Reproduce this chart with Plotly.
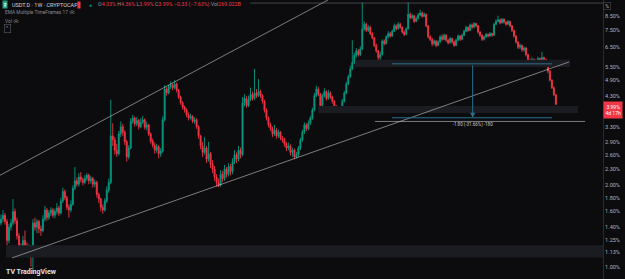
import math
import plotly.graph_objects as go

# ---------------- data (weekly candles, USDT.D %) ----------------
closes = [1.50, 1.55, 1.47, 1.25, 1.40, 1.45, 1.60, 1.48, 1.30, 1.18,
          1.15, 1.25, 1.20, 1.14, 1.17, 1.09, 1.45, 1.40, 1.47, 1.38,
          1.36, 1.50, 1.62, 1.52, 1.58, 1.62, 1.55, 1.60, 1.65, 1.58,
          1.75, 1.90, 1.80, 1.66, 1.62, 1.70, 1.95, 2.08, 2.02, 2.15,
          2.10, 2.05, 2.12, 2.18, 2.08, 2.12, 2.02, 2.05, 1.85, 1.78,
          1.66, 1.62, 1.75, 1.92, 2.05, 3.05, 2.95, 2.70, 2.62, 3.10,
          3.30, 3.15, 2.90, 2.55, 2.75, 3.45, 3.55, 3.38, 3.48, 3.30,
          3.42, 3.50, 3.28, 3.35, 3.10, 2.92, 2.82, 2.70, 2.78, 2.62,
          2.68, 3.50, 4.55, 4.40, 4.65, 4.70, 4.60, 4.75, 4.50, 4.25,
          4.05, 3.90, 3.80, 3.65, 3.55, 3.60, 3.45, 3.50, 3.30, 3.05,
          2.80, 2.65, 2.75, 2.50, 2.62, 2.40, 2.30, 2.15, 2.05, 2.00,
          2.20, 2.12, 2.30, 2.20, 2.35, 2.25, 2.45, 2.60, 2.50, 2.70,
          2.60, 4.05, 4.20, 3.95, 4.15, 4.35, 4.20, 4.40, 4.30, 4.45,
          4.30, 4.10, 3.80, 3.55, 3.35, 3.25, 3.10, 3.20, 3.05, 3.15,
          3.00, 2.95, 2.85, 2.75, 2.80, 2.65, 2.70, 2.55, 2.60, 2.75,
          2.95, 3.15, 3.35, 3.25, 3.40, 3.55, 3.80, 4.30, 4.55, 4.35,
          3.95, 4.30, 4.45, 4.20, 4.40, 4.25, 4.10, 3.90, 3.80, 3.85,
          3.78, 4.10, 4.40, 4.75, 5.05, 5.40, 5.70, 6.05, 6.30, 6.10,
          6.40, 7.60, 7.90, 7.50, 7.70, 7.30, 7.05, 6.60, 6.30, 5.95,
          6.10, 6.85, 6.70, 7.10, 7.30, 7.15, 7.45, 7.80, 7.60, 7.90,
          7.70, 7.40, 7.25, 7.60, 8.60, 8.35, 8.50, 8.10, 8.30, 8.55,
          8.70, 8.45, 8.60, 7.80, 7.10, 6.95, 6.70, 6.85, 6.60, 6.80,
          7.10, 6.95, 7.20, 6.90, 6.75, 7.00, 6.80, 6.60, 6.90, 7.15,
          6.95, 7.20, 7.45, 7.70, 7.50, 7.85, 7.70, 7.95, 7.80, 7.40,
          7.20, 6.95, 7.10, 7.25, 7.15, 7.30, 7.20, 7.90, 8.10, 8.20,
          8.00, 8.25, 8.05, 7.90, 8.10, 7.80, 7.50, 7.15, 6.80, 6.50,
          6.60, 6.35, 6.45, 6.10, 5.80, 5.70, 5.85, 5.65, 5.75, 5.90,
          5.80, 5.95, 5.85, 5.60, 5.30, 4.90, 4.60, 4.33, 3.99]

highs = [1.56, 1.62, 1.58, 1.50, 1.44, 1.50, 1.78, 1.64, 1.52, 1.33,
         1.22, 1.30, 1.36, 1.23, 1.21, 1.20, 1.50, 1.52, 1.50, 1.49,
         1.42, 1.55, 1.68, 1.65, 1.62, 1.66, 1.65, 1.64, 1.72, 1.68,
         1.80, 1.96, 1.93, 1.83, 1.70, 1.76, 2.00, 2.34, 2.14, 2.22,
         2.24, 2.14, 2.18, 2.22, 2.21, 2.17, 2.15, 2.10, 2.08, 1.88,
         1.80, 1.70, 1.79, 1.98, 2.12, 4.15, 3.40, 3.02, 2.85, 3.18,
         3.45, 3.38, 3.20, 2.95, 2.82, 3.55, 3.65, 3.60, 3.58, 3.52,
         3.55, 3.62, 3.54, 3.44, 3.38, 3.14, 2.98, 2.88, 2.85, 2.82,
         2.75, 3.60, 4.70, 4.62, 4.72, 4.85, 4.78, 4.90, 4.80, 4.55,
         4.30, 4.10, 3.95, 3.86, 3.72, 3.68, 3.64, 3.58, 3.54, 3.34,
         3.08, 2.90, 3.02, 2.80, 2.90, 2.66, 2.48, 2.36, 2.20, 2.12,
         2.28, 2.26, 2.38, 2.34, 2.42, 2.40, 2.52, 2.70, 2.65, 2.80,
         2.76, 4.25, 4.35, 4.28, 4.30, 4.60, 4.45, 5.40, 4.55, 4.95,
         4.52, 4.36, 4.15, 3.86, 3.60, 3.42, 3.30, 3.35, 3.26, 3.22,
         3.18, 3.05, 3.00, 2.90, 2.88, 2.84, 2.76, 2.74, 2.66, 2.80,
         3.00, 3.22, 3.42, 3.40, 3.48, 3.62, 3.88, 4.40, 4.68, 4.62,
         4.40, 4.38, 4.58, 4.50, 4.52, 4.46, 4.30, 4.14, 3.96, 3.92,
         3.90, 4.18, 4.48, 4.85, 5.15, 5.55, 6.90, 6.20, 6.45, 6.40,
         6.55, 9.50, 8.10, 8.00, 7.85, 7.80, 7.40, 7.10, 6.70, 6.35,
         6.25, 6.95, 6.95, 7.20, 7.45, 7.40, 7.55, 7.95, 7.90, 8.05,
         8.00, 7.75, 7.50, 7.70, 9.50, 8.75, 8.65, 8.55, 8.45, 8.70,
         8.95, 8.80, 8.75, 8.65, 7.85, 7.20, 7.05, 6.95, 6.90, 6.90,
         7.20, 7.25, 7.30, 7.25, 6.98, 7.10, 7.05, 6.88, 7.00, 7.25,
         7.20, 7.30, 7.55, 7.80, 7.75, 7.95, 7.95, 8.05, 8.00, 7.85,
         7.45, 7.25, 7.18, 7.35, 7.30, 7.40, 7.35, 8.00, 8.25, 8.50,
         8.30, 8.35, 8.30, 8.10, 8.20, 8.15, 7.85, 7.55, 7.20, 6.85,
         6.70, 6.65, 6.55, 6.50, 6.15, 5.90, 5.95, 5.90, 5.85, 6.00,
         5.95, 6.25, 6.00, 5.90, 5.65, 5.35, 4.95, 4.65, 4.36]

lows = [1.42, 1.46, 1.43, 1.20, 1.22, 1.36, 1.42, 1.44, 1.26, 1.13,
        1.11, 1.13, 1.17, 1.10, 1.08, 1.00, 0.95, 1.36, 1.33, 1.33,
        1.30, 1.34, 1.47, 1.48, 1.49, 1.54, 1.52, 1.51, 1.56, 1.54,
        1.56, 1.72, 1.76, 1.62, 1.52, 1.59, 1.68, 1.92, 1.98, 1.98,
        2.05, 2.00, 2.02, 2.08, 2.02, 2.03, 1.96, 1.97, 1.80, 1.72,
        1.60, 1.57, 1.60, 1.72, 1.88, 2.02, 2.80, 2.60, 2.55, 2.58,
        3.02, 3.05, 2.82, 2.45, 2.50, 2.72, 3.38, 3.30, 3.32, 3.22,
        3.26, 3.38, 3.22, 3.20, 3.05, 2.86, 2.76, 2.62, 2.64, 2.52,
        2.55, 2.64, 3.45, 4.30, 4.35, 4.55, 4.50, 4.55, 4.42, 4.18,
        3.98, 3.82, 3.72, 3.58, 3.48, 3.50, 3.40, 3.38, 3.24, 2.98,
        2.72, 2.55, 2.60, 2.42, 2.45, 2.32, 2.22, 2.08, 1.98, 1.97,
        1.98, 2.06, 2.08, 2.14, 2.16, 2.18, 2.20, 2.40, 2.42, 2.46,
        2.52, 2.56, 3.92, 3.88, 3.90, 4.10, 4.12, 4.15, 4.22, 4.25,
        4.22, 4.02, 3.72, 3.48, 3.28, 3.18, 3.02, 3.05, 2.98, 3.00,
        2.94, 2.88, 2.78, 2.68, 2.70, 2.58, 2.55, 2.50, 2.52, 2.55,
        2.70, 2.90, 3.10, 3.18, 3.20, 3.35, 3.50, 3.76, 4.25, 4.28,
        3.85, 3.90, 4.24, 4.12, 4.15, 4.18, 4.02, 3.84, 3.74, 3.76,
        3.72, 3.74, 4.05, 4.35, 4.70, 5.00, 5.35, 5.62, 5.95, 6.00,
        6.02, 6.35, 7.50, 7.40, 7.40, 7.20, 6.95, 6.50, 6.20, 5.80,
        5.78, 6.05, 6.60, 6.65, 7.00, 7.05, 7.10, 7.40, 7.50, 7.55,
        7.60, 7.30, 7.15, 7.20, 7.55, 8.25, 8.25, 8.00, 8.05, 8.25,
        8.50, 8.35, 8.40, 7.70, 7.00, 6.85, 6.55, 6.60, 6.50, 6.55,
        6.75, 6.85, 6.90, 6.80, 6.65, 6.70, 6.70, 6.52, 6.55, 6.85,
        6.85, 6.90, 7.15, 7.40, 7.40, 7.45, 7.60, 7.65, 7.70, 7.30,
        7.10, 6.85, 6.88, 7.05, 7.05, 7.10, 7.10, 7.15, 7.85, 8.05,
        7.90, 7.95, 7.95, 7.80, 7.85, 7.70, 7.40, 7.05, 6.70, 6.40,
        6.40, 6.25, 6.25, 6.00, 5.70, 5.55, 5.60, 5.55, 5.60, 5.65,
        5.70, 5.75, 5.75, 5.50, 5.20, 4.85, 4.55, 4.28, 3.99]

first_open = 1.45
opens = [first_open] + closes[:-1]
weeks = list(range(len(closes)))

# drawings (in candle-index / percent units)
zone_x0 = [2.5, 158.8, 177.4]
zone_x1 = [302.0, 289.1, 285.1]
zone_lo = [1.08, 3.71, 5.49]
zone_hi = [1.20, 3.94, 5.84]

upper_line_x = [-0.5, 163.8]
upper_line_y = [2.18, 9.72]
lower_line_x = [5.5, 284.6]
lower_line_y = [1.077, 5.73]

top_ray_x = [124.8, 302.0]
top_ray_y = [9.47, 9.47]
gray_ray_x = [187.4, 292.6]
gray_ray_y = [3.45, 3.45]

measure_x = [195.9, 276.1]
measure_mid = 236.3
measure_top = 5.64
measure_bottom = 3.56
measure_label = "-1.80 (-31.66%) -180"
measure_label_y = 3.36

tick_vals = [1.00, 1.13, 1.25, 1.40, 1.60, 1.80, 2.00, 2.30, 2.60, 2.90,
             3.30, 4.30, 4.90, 5.50, 6.50, 7.50, 8.50]
tick_text = ["%.2f%%" % v for v in tick_vals]

BG = "#0c0c0e"
UP = "#089981"
DN = "#f23645"
ZONE = "#1b1c21"
MEAS = "#2a6f8e"

fig = go.Figure()

for x0, x1, lo, hi in zip(zone_x0, zone_x1, zone_lo, zone_hi):
    fig.add_trace(go.Scatter(x=[x0, x1, x1, x0, x0], y=[lo, lo, hi, hi, lo],
                             mode="lines", fill="toself", fillcolor=ZONE,
                             line=dict(width=0), hoverinfo="skip", showlegend=False))

fig.add_trace(go.Candlestick(
    x=weeks, open=opens, high=highs, low=lows, close=closes,
    increasing=dict(line=dict(color=UP, width=0.9), fillcolor=UP),
    decreasing=dict(line=dict(color=DN, width=0.9), fillcolor=DN),
    whiskerwidth=0, showlegend=False))

line_style = dict(color="rgba(200,200,205,0.75)", width=0.8)
fig.add_trace(go.Scatter(x=upper_line_x, y=upper_line_y, mode="lines", line=line_style, showlegend=False))
fig.add_trace(go.Scatter(x=lower_line_x, y=lower_line_y, mode="lines", line=line_style, showlegend=False))
fig.add_trace(go.Scatter(x=top_ray_x, y=top_ray_y, mode="lines",
                         line=dict(color="rgba(150,150,155,0.6)", width=0.7), showlegend=False))
fig.add_trace(go.Scatter(x=gray_ray_x, y=gray_ray_y, mode="lines",
                         line=dict(color="rgba(190,190,195,0.8)", width=0.8), showlegend=False))

fig.add_trace(go.Scatter(x=measure_x, y=[measure_top, measure_top], mode="lines",
                         line=dict(color=MEAS, width=1), showlegend=False))
fig.add_trace(go.Scatter(x=measure_x, y=[measure_bottom, measure_bottom], mode="lines",
                         line=dict(color=MEAS, width=1), showlegend=False))
fig.add_annotation(x=measure_mid, y=math.log10(measure_bottom), ax=measure_mid,
                   ay=math.log10(measure_top), xref="x", yref="y", axref="x", ayref="y",
                   showarrow=True, arrowhead=2, arrowsize=1, arrowwidth=1,
                   arrowcolor=MEAS, text="")
fig.add_trace(go.Scatter(x=[measure_mid], y=[measure_label_y], mode="text",
                         text=[measure_label],
                         textfont=dict(size=4.5, color="#c8c8cc", family="Roboto"),
                         showlegend=False))

fig.update_xaxes(visible=False, range=[-0.5, 301.6], rangeslider=dict(visible=False))
fig.update_yaxes(type="log", range=[math.log10(0.90), math.log10(9.72)],
                 side="right", tickvals=tick_vals, ticktext=tick_text,
                 showgrid=False, zeroline=False, ticks="",
                 tickfont=dict(size=5.5, color="#b2b5be", family="Roboto"),
                 showline=True, linecolor="#2a2a2e", linewidth=1)

hdr = dict(xref="paper", yref="paper", showarrow=False, xanchor="left", yanchor="middle")
W, H = 603.0, 279.0
def px(x):
    return x / W
def py(y):
    return 1 - y / H

fig.add_annotation(x=px(1.5), y=py(5), text="₮", font=dict(size=5, color="white"),
                   bgcolor="#26a17b", borderpad=0.5, **hdr)
fig.add_annotation(x=px(10), y=py(5), text="USDT.D · 1W · CRYPTOCAP",
                   font=dict(size=5.5, color="#d1d4dc", family="Roboto"), **hdr)
fig.add_annotation(x=px(77), y=py(5), text=" ", bgcolor=DN, borderpad=0.3,
                   font=dict(size=4), **hdr)
fig.add_annotation(x=px(87), y=py(5), text="●", font=dict(size=5, color=UP), **hdr)
fig.add_annotation(x=px(96), y=py(5),
                   text=("<span style='color:#9598a1'>O</span>4.33% "
                         "<span style='color:#9598a1'>H</span>4.36% "
                         "<span style='color:#9598a1'>L</span>3.99% "
                         "<span style='color:#9598a1'>C</span>3.99% "
                         "−0.33 (−7.63%) "
                         "<span style='color:#9598a1'>Vol</span>269.022B"),
                   font=dict(size=5.3, color=DN, family="Roboto"), **hdr)
fig.add_annotation(x=px(3), y=py(13), text="EMA Multiple TimeFrames 17 👁",
                   font=dict(size=4.8, color="#868993", family="Roboto"), **hdr)
fig.add_annotation(x=px(3), y=py(21), text="Vol 👁",
                   font=dict(size=4.8, color="#868993", family="Roboto"), **hdr)
fig.add_annotation(x=px(4), y=py(29), text="⌃", font=dict(size=5, color="#b2b5be"),
                   bordercolor="#5d606b", borderwidth=0.6, borderpad=0.8, **hdr)
fig.add_annotation(x=px(4), y=py(272), text="<b>TV TradingView</b>",
                   font=dict(size=7, color="#e0e3eb", family="Roboto"), **hdr)

fig.add_annotation(x=1.0, y=py(101), xref="paper", yref="paper", xanchor="left",
                   yanchor="top", showarrow=False, text="3.99%<br>4d 17h",
                   font=dict(size=5, color="white", family="Roboto"),
                   bgcolor=DN, borderpad=1.5, align="center")
fig.add_annotation(x=1.0, y=py(2), xref="paper", yref="paper", xanchor="left",
                   yanchor="top", showarrow=False, text=" % ",
                   font=dict(size=5, color="#b2b5be", family="Roboto"),
                   bordercolor="#434651", borderwidth=0.6, borderpad=0.5)

fig.update_layout(width=625, height=279, margin=dict(l=0, r=22, t=0, b=0),
                  paper_bgcolor=BG, plot_bgcolor=BG, showlegend=False)

fig.write_html("out.html")
